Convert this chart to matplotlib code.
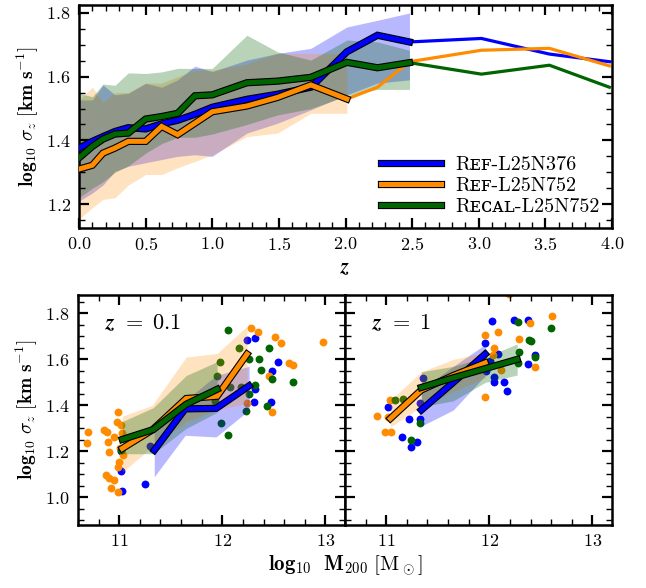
import numpy as np
import matplotlib
matplotlib.use('Agg')
from matplotlib import pyplot as plt
import matplotlib.patheffects as pe
from matplotlib.ticker import MultipleLocator

plt.rcParams['font.family'] = ['cmr10', 'DejaVu Serif', 'DejaVu Sans']
plt.rcParams['mathtext.fontset'] = 'cm'
plt.rcParams['axes.formatter.use_mathtext'] = True
plt.rcParams['font.size'] = 13

c_ref = 'blue'
c_hr = 'darkorange'
c_recal = 'darkgreen'

# ---- top panel: sigma_z vs redshift ----
z_snap = [0.0, 0.1, 0.18, 0.27, 0.37, 0.5, 0.62, 0.74, 0.87, 1.0, 1.26, 1.49, 1.74, 2.01, 2.24, 2.48]
z_high = [2.48, 3.02, 3.53, 3.98]
z_hr_high = [2.01, 2.24, 2.48, 3.02, 3.53, 3.98]

ref_med = [1.376, 1.397, 1.412, 1.428, 1.44, 1.436, 1.452, 1.463, 1.482, 1.504, 1.529, 1.545, 1.567, 1.678, 1.730, 1.709]
ref_lo = [1.209, 1.235, 1.26, 1.303, 1.319, 1.33, 1.34, 1.35, 1.355, 1.35, 1.423, 1.454, 1.496, 1.543, 1.58, 1.59]
ref_hi = [1.527, 1.527, 1.574, 1.543, 1.548, 1.579, 1.567, 1.59, 1.633, 1.616, 1.652, 1.673, 1.689, 1.756, 1.777, 1.80]
ref_high = [1.709, 1.72, 1.671, 1.647]

hr_med = [1.31, 1.322, 1.36, 1.376, 1.397, 1.397, 1.444, 1.418, 1.454, 1.49, 1.508, 1.535, 1.574, 1.53]
hr_lo = [1.152, 1.189, 1.215, 1.22, 1.26, 1.293, 1.293, 1.314, 1.334, 1.355, 1.412, 1.423, 1.485, 1.485]
hr_hi = [1.527, 1.567, 1.52, 1.55, 1.55, 1.58, 1.58, 1.60, 1.62, 1.62, 1.64, 1.673, 1.673, 1.673]
hr_high = [1.53, 1.567, 1.647, 1.683, 1.689, 1.634]

rc_med = [1.345, 1.381, 1.404, 1.42, 1.423, 1.467, 1.475, 1.485, 1.54, 1.543, 1.581, 1.586, 1.598, 1.645, 1.628, 1.644]
rc_lo = [1.22, 1.25, 1.27, 1.30, 1.32, 1.36, 1.39, 1.41, 1.41, 1.42, 1.45, 1.48, 1.50, 1.54, 1.56, 1.56]
rc_hi = [1.548, 1.537, 1.577, 1.573, 1.612, 1.61, 1.615, 1.626, 1.626, 1.626, 1.73, 1.678, 1.652, 1.715, 1.709, 1.683]
rc_high = [1.644, 1.608, 1.636, 1.567]

labels = ['R\u1d07\ua730-L25N376', 'R\u1d07\ua730-L25N752', 'R\u1d07\u1d04\u1d00\u029f-L25N752']

# ---- bottom panels: sigma_z vs halo mass ----
# z = 0.1
m01_ref = [11.34, 11.64, 11.94, 12.26]
s01_ref = [1.205, 1.385, 1.387, 1.485]
s01_ref_lo = [1.09, 1.27, 1.263, 1.38]
s01_ref_hi = [1.30, 1.42, 1.53, 1.57]
m01_hr = [11.03, 11.32, 11.65, 11.95, 12.24]
s01_hr = [1.213, 1.293, 1.43, 1.44, 1.623]
s01_hr_lo = [1.11, 1.22, 1.33, 1.38, 1.41]
s01_hr_hi = [1.353, 1.40, 1.61, 1.626, 1.745]
m01_rc = [11.03, 11.33, 11.65, 11.95]
s01_rc = [1.252, 1.295, 1.405, 1.47]
s01_rc_lo = [1.19, 1.19, 1.30, 1.37]
s01_rc_hi = [1.33, 1.39, 1.53, 1.59]

pt01_hr_m = [10.693, 10.683, 10.855, 10.877, 10.887, 10.903, 10.952, 10.974, 10.99, 11.016, 11.026, 11.006,
             11.032, 11.0, 10.984, 10.871, 10.903, 10.952, 10.92, 10.99,
             12.274, 12.345, 12.516, 12.565, 12.975, 12.645, 12.69, 12.452, 12.242, 12.478]
pt01_hr_s = [1.285, 1.235, 1.293, 1.285, 1.242, 1.198, 1.263, 1.326, 1.372, 1.314, 1.278, 1.213,
             1.184, 1.155, 1.133, 1.097, 1.085, 1.075, 1.039, 1.024,
             1.735, 1.717, 1.698, 1.67, 1.675, 1.583, 1.575, 1.53, 1.41, 1.372]
pt01_ref_m = [11.02, 11.02, 11.03, 11.25, 11.30, 12.24, 12.316, 12.545, 12.48, 12.316, 12.307, 12.468]
pt01_ref_s = [1.20, 1.113, 1.03, 1.057, 1.224, 1.684, 1.694, 1.59, 1.55, 1.47, 1.413, 1.416]
pt01_rc_m = [11.02, 12.058, 12.16, 11.975, 11.952, 12.355, 12.26, 12.45, 12.378, 12.478, 12.684, 12.32,
             12.26, 12.18, 12.07, 11.93, 12.226, 12.435, 11.99, 12.06]
pt01_rc_s = [1.205, 1.73, 1.65, 1.59, 1.527, 1.60, 1.60, 1.65, 1.553, 1.513, 1.503, 1.49,
             1.448, 1.48, 1.48, 1.419, 1.375, 1.397, 1.322, 1.271]

# z = 1
m1_ref = [11.34, 11.65, 11.96]
s1_ref = [1.38, 1.50, 1.623]
s1_ref_lo = [1.31, 1.38, 1.53]
s1_ref_hi = [1.47, 1.57, 1.665]
m1_hr = [11.04, 11.34, 11.65, 11.96]
s1_hr = [1.343, 1.467, 1.53, 1.585]
s1_hr_lo = [1.307, 1.394, 1.46, 1.52]
s1_hr_hi = [1.423, 1.546, 1.60, 1.63]
m1_rc = [11.34, 11.65, 11.96, 12.27]
s1_rc = [1.478, 1.52, 1.56, 1.60]
s1_rc_lo = [1.394, 1.42, 1.50, 1.532]
s1_rc_hi = [1.546, 1.57, 1.61, 1.667]

pt1_hr_m = [10.91, 10.99, 11.048, 11.032, 11.02, 11.958, 12.087, 12.397, 12.603, 12.29, 12.049, 12.04,
            12.113, 11.958, 12.442, 12.194]
pt1_hr_s = [1.355, 1.285, 1.285, 1.423, 1.35, 1.706, 1.72, 1.757, 1.79, 1.69, 1.648, 1.62,
            1.553, 1.435, 1.565, 1.885]
pt1_ref_m = [11.016, 11.152, 11.242, 11.30, 11.216, 11.33, 11.355, 11.33, 12.023, 12.236, 12.371, 11.958,
             12.01, 12.081, 12.049, 12.049, 12.139, 12.172, 12.442, 12.371, 11.97]
pt1_ref_s = [1.394, 1.263, 1.22, 1.242, 1.343, 1.343, 1.517, 1.409, 1.767, 1.771, 1.77, 1.672,
             1.594, 1.623, 1.522, 1.50, 1.50, 1.462, 1.617, 1.58, 1.55]
pt1_rc_m = [11.087, 11.161, 11.236, 11.323, 12.281, 12.597, 12.387, 12.40, 12.29, 12.281, 12.442]
pt1_rc_s = [1.423, 1.43, 1.249, 1.324, 1.761, 1.735, 1.684, 1.68, 1.633, 1.583, 1.61]


def thick(ax, x, y, c, label=None):
    ax.plot(x, y, color=c, lw=3.6, zorder=4, solid_joinstyle='miter', label=label,
            path_effects=[pe.Stroke(linewidth=5.2, foreground='k'), pe.Normal()])


def style(ax, xmaj, xmin, ymaj, ymin):
    ax.xaxis.set_major_locator(MultipleLocator(xmaj))
    ax.xaxis.set_minor_locator(MultipleLocator(xmin))
    ax.yaxis.set_major_locator(MultipleLocator(ymaj))
    ax.yaxis.set_minor_locator(MultipleLocator(ymin))
    ax.tick_params(which='both', direction='in', top=True, right=True)
    ax.tick_params(which='major', length=7, width=1.6, pad=6)
    ax.tick_params(which='minor', length=4, width=1.0)
    for s in ax.spines.values():
        s.set_linewidth(1.8)


fig = plt.figure(figsize=(6.46, 5.88), dpi=100)
ax0 = fig.add_axes([0.1223, 0.6122, 0.8251, 0.3793])
ax1 = fig.add_axes([0.1207, 0.1071, 0.4133, 0.3912])
ax2 = fig.add_axes([0.5341, 0.1071, 0.4133, 0.3912])

# top
ax0.fill_between(z_snap, ref_lo, ref_hi, color=c_ref, alpha=0.28, lw=0, zorder=1)
ax0.fill_between(z_snap[:14], hr_lo, hr_hi, color=c_hr, alpha=0.25, lw=0, zorder=1)
ax0.fill_between(z_snap, rc_lo, rc_hi, color=c_recal, alpha=0.28, lw=0, zorder=1)
ax0.plot(z_high, ref_high, color=c_ref, lw=2.3, zorder=3)
ax0.plot(z_hr_high, hr_high, color=c_hr, lw=2.3, zorder=3)
ax0.plot(z_high, rc_high, color=c_recal, lw=2.3, zorder=3)
thick(ax0, z_snap, ref_med, c_ref, labels[0])
thick(ax0, z_snap[:14], hr_med, c_hr, labels[1])
thick(ax0, z_snap, rc_med, c_recal, labels[2])
ax0.set_xlim(0, 4)
ax0.set_ylim(1.125, 1.825)
style(ax0, 0.5, 0.1, 0.2, 0.05)
ax0.set_xlabel(r'$\boldsymbol{z}$', fontsize=15, labelpad=4)
ax0.set_ylabel(r'$\mathbf{log_{10}}\ \boldsymbol{\sigma_z}\ \mathbf{[km\ s^{-1}]}$', fontsize=14)
ax0.legend(loc='lower right', frameon=False, fontsize=14.5, handlelength=3.0,
           labelspacing=0.15, borderaxespad=0.2, handletextpad=0.7)

# bottom
panels = [
    (ax1, r'$\boldsymbol{z\ =\ 0.1}$',
     [(pt01_ref_m, pt01_ref_s, m01_ref, s01_ref, s01_ref_lo, s01_ref_hi, c_ref, 0.28),
      (pt01_hr_m, pt01_hr_s, m01_hr, s01_hr, s01_hr_lo, s01_hr_hi, c_hr, 0.25),
      (pt01_rc_m, pt01_rc_s, m01_rc, s01_rc, s01_rc_lo, s01_rc_hi, c_recal, 0.28)]),
    (ax2, r'$\boldsymbol{z\ =\ 1}$',
     [(pt1_ref_m, pt1_ref_s, m1_ref, s1_ref, s1_ref_lo, s1_ref_hi, c_ref, 0.28),
      (pt1_hr_m, pt1_hr_s, m1_hr, s1_hr, s1_hr_lo, s1_hr_hi, c_hr, 0.25),
      (pt1_rc_m, pt1_rc_s, m1_rc, s1_rc, s1_rc_lo, s1_rc_hi, c_recal, 0.28)]),
]
for ax, title, sets in panels:
    for pm, ps, m, s, lo, hi, c, a in sets:
        ax.scatter(pm, ps, s=32, color=c, lw=0, zorder=1)
    for pm, ps, m, s, lo, hi, c, a in sets:
        ax.fill_between(m, lo, hi, color=c, alpha=a, lw=0, zorder=2)
    for pm, ps, m, s, lo, hi, c, a in sets:
        thick(ax, m, s, c)
    ax.set_xlim(10.6, 13.19)
    ax.set_ylim(0.88, 1.88)
    style(ax, 1, 0.2, 0.2, 0.05)
    ax.text(0.1, 0.88, title, transform=ax.transAxes, fontsize=16, va='center')

ax2.tick_params(labelleft=False)
ax1.set_ylabel(r'$\mathbf{log_{10}}\ \boldsymbol{\sigma_z}\ \mathbf{[km\ s^{-1}]}$', fontsize=14)
fig.text(0.534, 0.03, r'$\mathbf{log_{10}\ \ M_{200}}\ [\mathrm{M}_\odot]$', fontsize=15, ha='center')

fig.savefig('out.png', dpi=100)
